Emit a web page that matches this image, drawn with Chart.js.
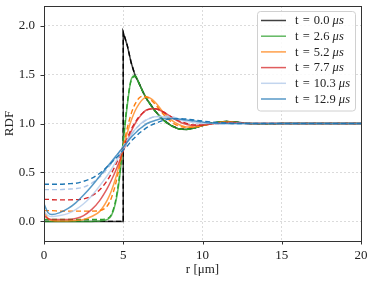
<!DOCTYPE html>
<html>
<head>
<meta charset="utf-8">
<script src="https://cdn.jsdelivr.net/npm/chart.js@4.4.1/dist/chart.umd.min.js"></script>
<style>
  html, body { margin: 0; padding: 0; background: #fff; }
  #wrap { width: 374px; height: 283px; }
</style>
</head>
<body>
<div id="wrap"><canvas id="chart" width="374" height="283"></canvas></div>
<script>
// r grid shared by the t > 0 curves (µm)
const rGrid = [0, 0.25, 0.5, 1, 1.5, 2, 2.5, 3, 3.5, 4, 4.25, 4.5, 4.75, 5, 5.25, 5.5, 5.75, 6, 6.25, 6.5,
  7, 7.5, 8, 8.5, 9, 9.5, 10, 10.5, 11, 11.5, 12, 13, 14, 15, 16, 17, 18, 19, 20];

// t = 0 has a hard step at r = 5
const blackR = [0, 5, 5, 5.25, 5.5, 5.75, 6, 6.25, 6.5, 7, 7.5, 8, 8.5, 9, 9.5, 10, 10.5, 11, 11.5, 12,
  13, 14, 15, 16, 17, 18, 19, 20];
const blackG = [0, 0, 1.93, 1.8, 1.62, 1.49, 1.41, 1.32, 1.245, 1.13, 1.04, 0.98, 0.945, 0.94, 0.955, 0.98,
  1.0, 1.015, 1.02, 1.015, 1.0, 0.995, 1, 1, 1, 1, 1, 1];

const timesUs = [0.0, 2.6, 5.2, 7.7, 10.3, 12.9];

// solid curves (simulation)
const greenSim = [0, 0, 0, 0, 0, 0, 0, 0, 0.005, 0.02, 0.06, 0.18, 0.42, 0.8, 1.18, 1.45, 1.49, 1.41, 1.32, 1.245,
  1.13, 1.04, 0.98, 0.945, 0.94, 0.955, 0.98, 1.0, 1.015, 1.02, 1.015, 1.0, 0.995, 1, 1, 1, 1, 1, 1];
const orangeSim = [0.1, 0.03, 0.01, 0.005, 0.005, 0.01, 0.02, 0.05, 0.1, 0.22, 0.31, 0.43, 0.58, 0.75, 0.9, 1.03, 1.13, 1.2, 1.25, 1.27,
  1.22, 1.12, 1.04, 0.99, 0.965, 0.965, 0.98, 0.995, 1.01, 1.015, 1.01, 1.0, 1.0, 1, 1, 1, 1, 1, 1];
const redSim = [0.06, 0.03, 0.02, 0.02, 0.02, 0.03, 0.06, 0.12, 0.21, 0.34, 0.42, 0.51, 0.61, 0.72, 0.82, 0.92, 1.0, 1.06, 1.11, 1.14,
  1.15, 1.12, 1.07, 1.02, 0.99, 0.98, 0.985, 0.995, 1.005, 1.01, 1.01, 1.0, 1.0, 1, 1, 1, 1, 1, 1];
const lightBlueSim = [0.1, 0.06, 0.05, 0.06, 0.08, 0.12, 0.18, 0.26, 0.36, 0.47, 0.53, 0.6, 0.67, 0.74, 0.81, 0.88, 0.94, 0.98, 1.02, 1.04,
  1.07, 1.07, 1.06, 1.04, 1.02, 1.01, 1.0, 1.0, 1.0, 1.0, 1.0, 1.0, 1.0, 1, 1, 1, 1, 1, 1];
const blueSim = [0.18, 0.09, 0.07, 0.09, 0.13, 0.19, 0.27, 0.36, 0.46, 0.56, 0.61, 0.66, 0.71, 0.76, 0.81, 0.86, 0.9, 0.94, 0.97, 1.0,
  1.03, 1.05, 1.05, 1.045, 1.035, 1.025, 1.015, 1.005, 1.0, 1.0, 1.0, 1.0, 1.0, 1, 1, 1, 1, 1, 1];

// dashed curves (theory)
const greenTh = [0.02, 0.02, 0.02, 0.02, 0.02, 0.02, 0.02, 0.02, 0.02, 0.03, 0.07, 0.2, 0.45, 0.83, 1.2, 1.44, 1.48, 1.41, 1.32, 1.245,
  1.13, 1.04, 0.98, 0.945, 0.94, 0.955, 0.98, 1.0, 1.015, 1.02, 1.015, 1.0, 0.995, 1, 1, 1, 1, 1, 1];
const orangeTh = [0.11, 0.11, 0.11, 0.105, 0.105, 0.105, 0.105, 0.105, 0.11, 0.16, 0.24, 0.37, 0.55, 0.76, 0.95, 1.1, 1.2, 1.26, 1.28, 1.27,
  1.2, 1.1, 1.02, 0.975, 0.96, 0.965, 0.98, 0.995, 1.01, 1.015, 1.01, 1.0, 1.0, 1, 1, 1, 1, 1, 1];
const redTh = [0.225, 0.225, 0.222, 0.22, 0.22, 0.222, 0.23, 0.26, 0.32, 0.42, 0.49, 0.57, 0.66, 0.76, 0.85, 0.94, 1.01, 1.07, 1.11, 1.14,
  1.15, 1.12, 1.07, 1.03, 1.0, 0.985, 0.985, 0.995, 1.0, 1.005, 1.005, 1.0, 1.0, 1, 1, 1, 1, 1, 1];
const lightBlueTh = [0.325, 0.325, 0.325, 0.325, 0.33, 0.335, 0.35, 0.39, 0.45, 0.54, 0.59, 0.65, 0.71, 0.77, 0.83, 0.89, 0.94, 0.98, 1.01, 1.04,
  1.07, 1.075, 1.07, 1.05, 1.035, 1.02, 1.01, 1.005, 1.0, 1.0, 1.0, 1.0, 1.0, 1, 1, 1, 1, 1, 1];
const blueTh = [0.38, 0.38, 0.38, 0.38, 0.385, 0.39, 0.41, 0.44, 0.49, 0.56, 0.6, 0.64, 0.68, 0.73, 0.77, 0.82, 0.86, 0.9, 0.93, 0.96,
  1.0, 1.03, 1.045, 1.05, 1.045, 1.035, 1.025, 1.015, 1.01, 1.005, 1.0, 1.0, 1.0, 1, 1, 1, 1, 1, 1];

const xTicks = [0, 5, 10, 15, 20];
const yTicks = [0, 0.5, 1.0, 1.5, 2.0];

const simSeries = [blackG, greenSim, orangeSim, redSim, lightBlueSim, blueSim];
const thSeries = [blackG, greenTh, orangeTh, redTh, lightBlueTh, blueTh];
const colors = ['#000000', '#2ca02c', '#ff7f0e', '#d62728', '#aec7e8', '#1f77b4'];

function fade(hex, a) {
  const n = parseInt(hex.slice(1), 16);
  return `rgba(${n >> 16},${(n >> 8) & 255},${n & 255},${a})`;
}

function points(i, vals) {
  const xs = i === 0 ? blackR : rGrid;
  return xs.map((x, j) => ({ x: x, y: vals[j] }));
}

const datasets = [];
timesUs.forEach((t, i) => {
  datasets.push({
    label: `t\u2004=\u2004${t.toFixed(1)}`,
    data: points(i, simSeries[i]),
    borderColor: fade(colors[i], 0.75),
    borderWidth: 1.5,
    pointRadius: 0,
    tension: 0,
    cubicInterpolationMode: i === 0 ? 'default' : 'monotone',
    order: 100 - 2 * i,
    legendEntry: true
  });
  datasets.push({
    label: `theory ${t.toFixed(1)}`,
    data: points(i, thSeries[i]),
    borderColor: colors[i],
    borderWidth: 1.4,
    borderDash: [5, 3],
    pointRadius: 0,
    tension: 0,
    cubicInterpolationMode: i === 0 ? 'default' : 'monotone',
    order: 99 - 2 * i
  });
});

const serif = "'Liberation Serif', 'DejaVu Serif', serif";
Chart.defaults.font.family = serif;
Chart.defaults.color = '#222';

// frame, outside tick marks and the boxed legend
const framePlugin = {
  id: 'frame',
  afterDraw(chart) {
    const { ctx, chartArea: a, scales } = chart;
    ctx.save();
    ctx.strokeStyle = '#333';
    ctx.lineWidth = 1;
    ctx.strokeRect(a.left + 0.5, a.top + 0.5, a.right - a.left, a.bottom - a.top);
    ctx.beginPath();
    scales.x.ticks.forEach(tk => {
      const px = Math.round(scales.x.getPixelForValue(tk.value)) + 0.5;
      ctx.moveTo(px, a.bottom);
      ctx.lineTo(px, a.bottom + 3.5);
    });
    scales.y.ticks.forEach(tk => {
      const py = Math.round(scales.y.getPixelForValue(tk.value)) + 0.5;
      ctx.moveTo(a.left, py);
      ctx.lineTo(a.left - 3.5, py);
    });
    ctx.stroke();

    // legend
    const bx = 257.5, by = 11.5, bw = 98, bh = 99.5;
    ctx.fillStyle = 'rgba(255,255,255,0.85)';
    ctx.strokeStyle = '#d0d0d0';
    ctx.beginPath();
    ctx.roundRect(bx, by, bw, bh, 3);
    ctx.fill();
    ctx.stroke();
    const entries = chart.data.datasets.filter(d => d.legendEntry);
    entries.forEach((d, k) => {
      const yy = 20.5 + k * 15.7;
      ctx.strokeStyle = d.borderColor;
      ctx.lineWidth = 1.5;
      ctx.beginPath();
      ctx.moveTo(261, yy);
      ctx.lineTo(286, yy);
      ctx.stroke();
      ctx.fillStyle = '#222';
      ctx.textBaseline = 'middle';
      ctx.font = `12.5px ${serif}`;
      ctx.fillText(d.label + ' ', 295, yy + 0.5);
      const w = ctx.measureText(d.label + ' ').width;
      ctx.font = `italic 12.5px ${serif}`;
      ctx.fillText('\u03bcs', 295 + w, yy + 0.5);
    });
    ctx.restore();
  }
};

new Chart(document.getElementById('chart'), {
  type: 'line',
  data: { datasets: datasets },
  plugins: [framePlugin],
  options: {
    responsive: false,
    animation: false,
    layout: { padding: { left: 0, top: 6, right: 13, bottom: 0 } },
    plugins: { legend: { display: false }, tooltip: { enabled: false } },
    scales: {
      x: {
        type: 'linear',
        min: 0,
        max: 20,
        afterBuildTicks: s => { s.ticks = xTicks.map(v => ({ value: v })); },
        afterFit: s => { s.height = 42; s.paddingLeft = 0; s.paddingRight = 0; },
        grid: { color: 'rgba(0,0,0,0.18)', lineWidth: 0.8, drawTicks: false },
        border: { display: false, dash: [2, 2] },
        ticks: { padding: 7, font: { size: 13 }, color: '#222' },
        title: { display: true, text: 'r [\u03bcm]', font: { size: 13 }, padding: { top: 0, bottom: 6 } }
      },
      y: {
        type: 'linear',
        min: -0.2,
        max: 2.2,
        afterBuildTicks: s => { s.ticks = yTicks.map(v => ({ value: v })); },
        afterFit: s => { s.width = 44; s.paddingTop = 0; s.paddingBottom = 0; },
        grid: { color: 'rgba(0,0,0,0.18)', lineWidth: 0.8, drawTicks: false },
        border: { display: false, dash: [2, 2] },
        ticks: { padding: 9, font: { size: 13 }, color: '#222', callback: v => Number(v).toFixed(1) },
        title: { display: true, text: 'RDF', font: { size: 13 }, padding: { top: 2, bottom: 2 } }
      }
    }
  }
});
</script>
</body>
</html>
